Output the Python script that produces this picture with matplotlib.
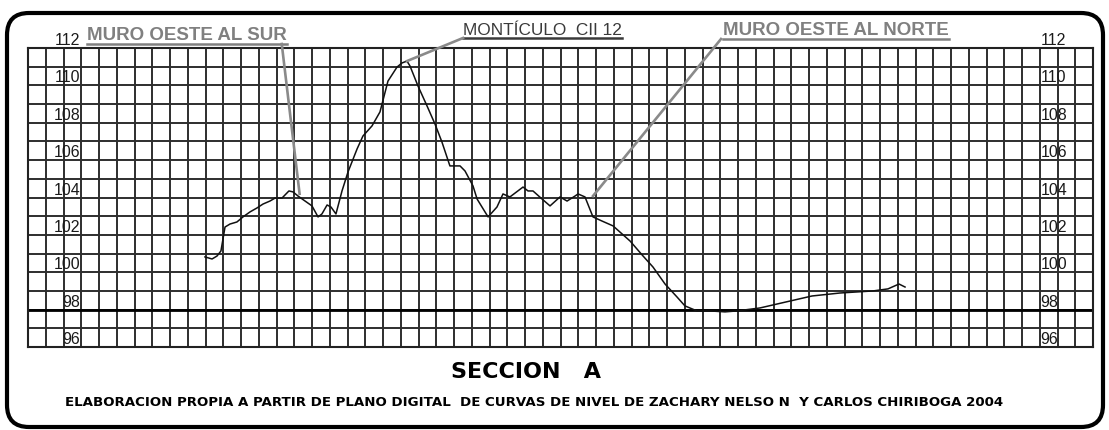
import matplotlib
matplotlib.use('Agg')
import matplotlib.pyplot as plt
from matplotlib.patches import FancyBboxPatch
from matplotlib.lines import Line2D
from matplotlib.transforms import IdentityTransform

# perfil del terreno: distancia en cuadros de la malla, cota en metros
distancia = [9.97, 10.37, 10.65, 10.87, 11.10, 11.38, 11.77, 12.11, 12.51, 12.90,
             13.24, 13.63, 13.92, 14.31, 14.70, 14.93, 15.21, 15.61, 16.00, 16.34,
             16.56, 16.85, 17.07, 17.35, 17.69, 18.03, 18.54, 18.87, 19.38, 19.83,
             20.28, 20.79, 21.07, 21.35, 21.52, 21.97, 22.48, 22.93, 23.32, 23.77,
             24.34, 24.62, 25.07, 25.30, 25.92, 26.42, 26.76, 27.15, 27.89, 28.17,
             28.45, 28.96, 29.41, 29.97, 30.37, 30.82, 30.99, 31.38, 31.83, 32.34,
             32.96, 33.92, 34.65, 35.21, 35.89, 36.56, 37.01, 37.69, 38.42, 39.27,
             39.94, 41.24, 42.93, 44.17, 45.75, 47.61, 48.45, 49.07, 49.41]
cota = [100.82, 100.71, 100.87, 101.14, 102.42, 102.58, 102.69, 102.96, 103.23, 103.44,
        103.65, 103.81, 103.97, 103.97, 104.35, 104.30, 104.08, 103.81, 103.55, 102.96,
        103.12, 103.60, 103.49, 103.12, 104.35, 105.37, 106.60, 107.29, 107.83, 108.58,
        110.23, 110.98, 111.20, 111.30, 111.04, 109.97, 108.90, 107.93, 106.97, 105.69,
        105.69, 105.42, 104.62, 103.92, 102.96, 103.49, 104.19, 104.03, 104.56, 104.35,
        104.35, 103.92, 103.55, 104.03, 103.81, 104.08, 104.19, 104.03, 102.96, 102.74,
        102.48, 101.67, 100.87, 100.28, 99.37, 98.68, 98.20, 97.93, 97.93, 97.88,
        97.93, 98.09, 98.46, 98.73, 98.89, 99.00, 99.11, 99.37, 99.21]

cotas_eje = [96, 98, 100, 102, 104, 106, 108, 110, 112]

# puntos senalados
muro_sur = (15.3, 104.2)
monticulo = (21.35, 111.3)
muro_norte = (31.83, 104.08)

W, H = 1109, 431
fig = plt.figure(figsize=(W / 100, H / 100), dpi=100)
ax = fig.add_axes([28 / W, (H - 348) / H, (1093 - 28) / W, (348 - 49) / H])

ax.set_xlim(0, 60)
ax.set_ylim(96, 112)
ax.set_xticks(range(0, 61))
ax.set_yticks(range(96, 113))
ax.grid(True, color='#2e2e2e', lw=1.4)
ax.tick_params(length=0, labelbottom=False, labelleft=False)
for s in ax.spines.values():
    s.set_linewidth(1.5)
    s.set_color('#222222')
ax.axhline(98, color='black', lw=2.0)

ax.plot(distancia, cota, color='#111111', lw=1.1, zorder=3)

for v in cotas_eje:
    ax.text(3 - 0.05, v + 0.21, str(v), ha='right', va='baseline', fontsize=11.5,
            family='Liberation Sans', color='#1a1a1a', zorder=4)
    ax.text(57 + 0.05, v + 0.21, str(v), ha='left', va='baseline', fontsize=11.5,
            family='Liberation Sans', color='#1a1a1a', zorder=4)

gris = '#808080'
t_sur = fig.text(87 / W, (H - 40) / H, 'MURO OESTE AL SUR', fontsize=13.5, weight='bold',
                 family='Liberation Sans', color=gris, va='baseline')
t_mon = fig.text(463 / W, (H - 35) / H, 'MONTÍCULO  CII 12', fontsize=12.4,
                 family='Liberation Sans', color='#3a3a3a', va='baseline')
t_nor = fig.text(723 / W, (H - 35) / H, 'MURO OESTE AL NORTE', fontsize=13.5, weight='bold',
                 family='Liberation Sans', color=gris, va='baseline')

fig.text(526 / W, (H - 372) / H, 'SECCION   A', fontsize=16, weight='bold',
         family='DejaVu Sans', ha='center', va='center')
fig.text(65 / W, (H - 403) / H,
         'ELABORACION PROPIA A PARTIR DE PLANO DIGITAL  DE CURVAS DE NIVEL DE ZACHARY NELSO N  Y CARLOS CHIRIBOGA 2004',
         fontsize=9.6, weight='bold', family='DejaVu Sans', ha='left', va='center')

# marco redondeado
marco = FancyBboxPatch((7, 3), 1096, 414, boxstyle='round,pad=0,rounding_size=22',
                       transform=IdentityTransform(), fill=False, lw=3.0,
                       edgecolor='black')
fig.add_artist(marco)

# subrayados y lineas guia
fig.canvas.draw()
ident = IdentityTransform()


def subrayar(t, color):
    bb = t.get_window_extent()
    y = bb.y0 - 1
    fig.add_artist(Line2D([bb.x0, bb.x1], [y, y], color=color, lw=1.8,
                          transform=ident))
    return bb.x0, bb.x1, y


def guia(p0, punto):
    x1, y1 = ax.transData.transform(punto)
    fig.add_artist(Line2D([p0[0], x1], [p0[1], y1], color='#8a8a8a', lw=1.9,
                          transform=ident, zorder=5))


x0, x1, y = subrayar(t_sur, gris)
guia((x1 - 5, y), muro_sur)
x0, x1, y = subrayar(t_mon, '#3a3a3a')
guia((x0, y), monticulo)
x0, x1, y = subrayar(t_nor, gris)
guia((x0 - 2, y), muro_norte)

fig.savefig('out.png', dpi=100)
